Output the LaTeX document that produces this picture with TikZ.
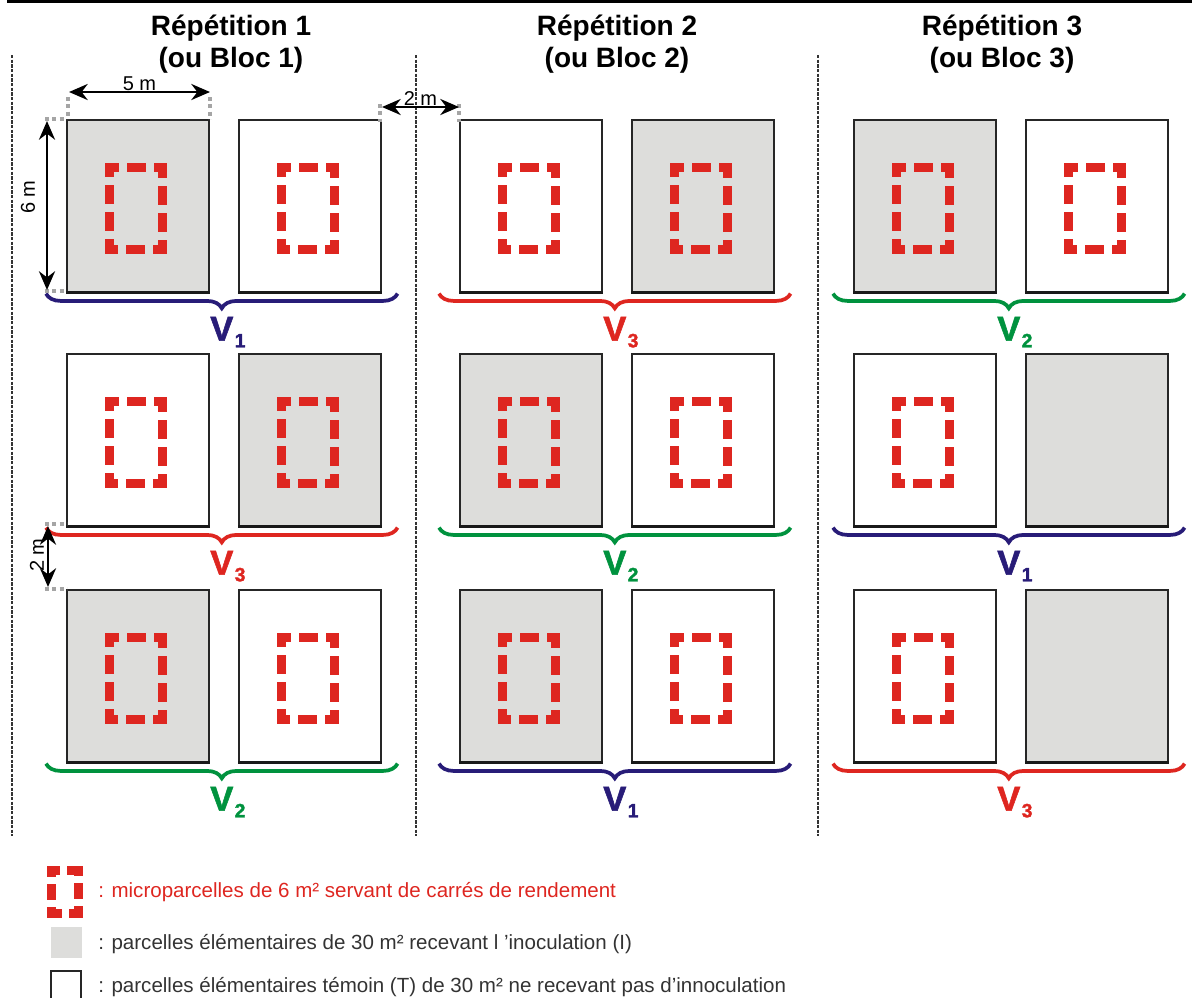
\documentclass[tikz,border=0pt]{standalone}
\usepackage{fontspec}
\setmainfont{Liberation Sans}
\newfontfamily\lourd{Liberation Sans Bold}[FakeBold=1.6]
\usetikzlibrary{arrows.meta,decorations.pathreplacing}

\definecolor{rouge}{RGB}{222,38,32}
\definecolor{v1}{RGB}{40,28,120}
\definecolor{v2}{RGB}{0,146,62}
\colorlet{v3}{rouge}
\definecolor{fond}{RGB}{221,221,219}
\definecolor{rappelgris}{RGB}{165,165,165}

\tikzset{
  plot/.style={draw=black!85, line width=1.2pt, minimum width=106.5pt, minimum height=129pt, anchor=north west, inner sep=0pt},
  micro/.style={draw=rouge, line width=7.1pt, line cap=rect, line join=miter, dash pattern=on 6.9pt off 13.35pt, dash phase=3.45pt},
  accolade/.style={decorate, decoration={brace, amplitude=11pt}, line width=2.8pt},
  cote/.style={{Stealth[length=14pt,width=12pt]}-{Stealth[length=14pt,width=12pt]}, line width=2.2pt},
  rappel/.style={rappelgris, line width=3pt, dash pattern=on 3pt off 2.5pt},
  sep/.style={black!80, line width=1.3pt, dash pattern=on 2.5pt off 1pt},
  titre/.style={font=\fontsize{21}{25}\selectfont\bfseries, anchor=base, inner sep=0pt},
  vlab/.style={midway, anchor=north, yshift=-16pt, inner sep=0pt, font=\fontsize{26}{28}\selectfont\lourd},
  cotelab/.style={inner sep=0pt, font=\fontsize{15}{17}\selectfont},
  legende/.style={anchor=west, inner sep=0pt, text=black!80, font=\fontsize{15.4}{18}\selectfont},
}

\begin{document}
\begin{tikzpicture}[x=0.75pt,y=-0.75pt]
\useasboundingbox (0,0) rectangle (1192,997);
\draw[line width=2pt] (7,1.3) -- (1192,1.3);

% titres des blocs
\foreach \k/\x in {1/231,2/617,3/1002}{
  \node[titre] (rep\k) at (\x,35) {Répétition \k};
  \node[titre] (bloc\k) at (\x,67) {(ou Bloc \k)};
}

% separations
\foreach \x in {12,416,818}
  \draw[sep] (\x,55) -- (\x,836);

% parcelles, microparcelles et varietes
\foreach \i/\x/\y/\lf/\rf/\v/\m in {
  a/66/119/fond/white/1/1, b/66/353/white/fond/3/1, c/66/589/fond/white/2/1,
  d/459/119/white/fond/3/1, e/459/353/fond/white/2/1, f/459/589/fond/white/1/1,
  g/853/119/fond/white/2/1, h/853/353/white/fond/1/0, k/853/589/white/fond/3/0}{
  \node[plot, fill=\lf] (L\i) at (\x,\y) {};
  \node[plot, fill=\rf] (R\i) at (\x+172,\y) {};
  \draw[black!90, line width=2.2pt] (L\i.south west) -- (L\i.south east);
  \draw[black!90, line width=2.2pt] (R\i.south west) -- (R\i.south east);
  \draw[micro] ([shift={(-28.5,-38.5)}]L\i.center) -- ++(53,0) -- ++(0,82) -- ++(-53,0) -- cycle;
  \ifnum\m=1
    \draw[micro] ([shift={(-28.5,-38.5)}]R\i.center) -- ++(53,0) -- ++(0,82) -- ++(-53,0) -- cycle;
  \fi
  \draw[accolade, v\v] ([shift={(16,1)}]R\i.south east) -- node[vlab, text=v\v] {V\rlap{\hspace{1pt}\raisebox{-5pt}{\fontsize{14.5}{15}\selectfont\v}}} ([shift={(-20,1)}]L\i.south west);
}

% cotes
\draw[rappel] (68,97) -- (68,119);
\draw[rappel] (210,97) -- (210,119);
\coordinate (c5a) at (69,92);
\coordinate (c5b) at (210,92);
\draw[cote] (c5a) -- node[cotelab, above] {5 m} (c5b);

\draw[rappel] (45,119) -- (65,119);
\draw[rappel] (45,291) -- (65,291);
\coordinate (c6a) at (47,121);
\coordinate (c6b) at (47,290);
\draw[cote] (c6a) -- (c6b);
\node[cotelab, rotate=90] (l6) at (28,197) {6 m};

\draw[rappel] (380,104) -- (380,122);
\draw[rappel] (459,104) -- (459,122);
\coordinate (c2a) at (382,107);
\coordinate (c2b) at (459,107);
\draw[cote] (c2a) -- node[cotelab, above] {2 m} (c2b);

\draw[rappel] (45,524) -- (67,524);
\draw[rappel] (45,589) -- (67,589);
\coordinate (c2c) at (48,526);
\coordinate (c2d) at (48,587);
\draw[cote] (c2c) -- (c2d);
\node[cotelab, rotate=90] (l2) at (37,555) {2 m};

% legende
\draw[micro, dash pattern=on 5pt off 12.5pt, dash phase=2.5pt] (51.75,870.75) -- (78.25,870.75) -- (78.25,913.25) -- (51.75,913.25) -- cycle;
\node[plot, draw=none, fill=fond, minimum width=23.25pt, minimum height=23.25pt] (lI) at (50,926) {};
\draw[black!85, line width=1.5pt] (51,999) -- (51,971) -- (81,971) -- (81,999);
\node[legende, text=rouge] (leg1) at (98,892) {: microparcelles de 6 m² servant de carrés de rendement};
\node[legende] (leg2) at (98,944) {: parcelles élémentaires de 30 m² recevant l ’inoculation (I)};
\node[legende] (leg3) at (98,987) {: parcelles élémentaires témoin (T) de 30 m² ne recevant pas d’innoculation};
\end{tikzpicture}
\end{document}
